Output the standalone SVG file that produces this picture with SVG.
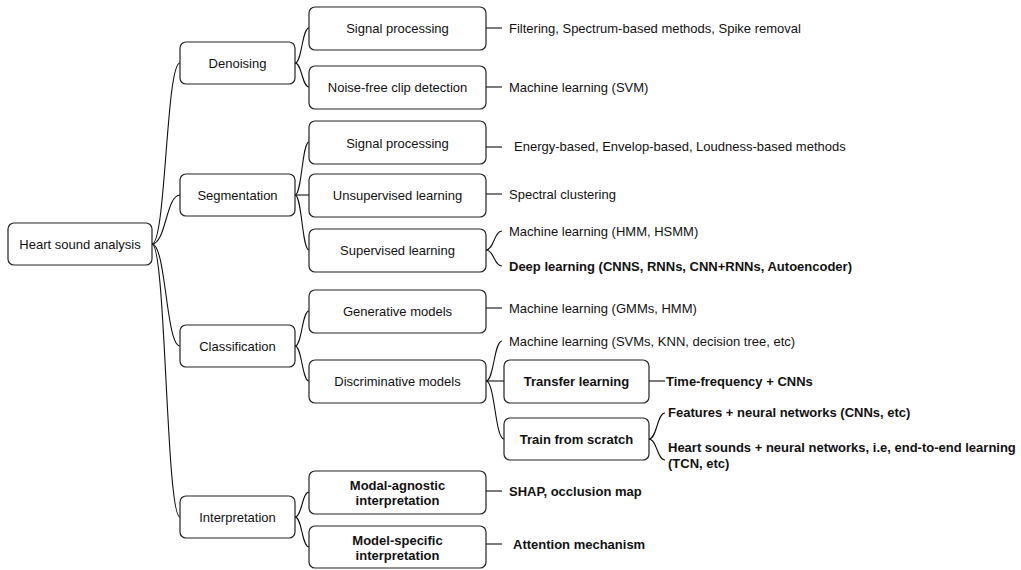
<svg xmlns="http://www.w3.org/2000/svg" width="1021" height="570" viewBox="0 0 1021 570">
<style>
.box{fill:#fff;stroke:#222;stroke-width:1.2}
.t{font-family:"Liberation Sans",Arial,sans-serif;font-size:13px;fill:#111}
.c{text-anchor:middle}
.b{font-weight:bold}
.e{fill:none;stroke:#111;stroke-width:1.1}
</style>
<rect width="1021" height="570" fill="#fff"/>
<g id="connectors">
<path class="e" d="M152,244 C166,244 166,63 180,63"/>
<path class="e" d="M152,244 C166,244 166,195 180,195"/>
<path class="e" d="M152,244 C166,244 166,346 180,346"/>
<path class="e" d="M152,244 C166,244 166,517 180,517"/>
<path class="e" d="M295,63 C302,63 302,28 309,28"/>
<path class="e" d="M295,63 C302,63 302,87 309,87"/>
<path class="e" d="M295,195 C302,195 302,142 309,142"/>
<path class="e" d="M295,195 L309,195"/>
<path class="e" d="M295,195 C302,195 302,250 309,250"/>
<path class="e" d="M295,346 C302,346 302,311 309,311"/>
<path class="e" d="M295,346 C302,346 302,381 309,381"/>
<path class="e" d="M295,517 C302,517 302,492 309,492"/>
<path class="e" d="M295,517 C302,517 302,547 309,547"/>
<path class="e" d="M486,28 L502,28"/>
<path class="e" d="M486,87 L502,87"/>
<path class="e" d="M486,147 L502,147"/>
<path class="e" d="M486,194 L502,194"/>
<path class="e" d="M486,250 C494,250 494,231 502,231"/>
<path class="e" d="M486,250 C494,250 494,266 502,266"/>
<path class="e" d="M486,308 L502,308"/>
<path class="e" d="M486,381 C494,381 494,341 502,341"/>
<path class="e" d="M486,381 L504,381"/>
<path class="e" d="M486,381 C495,381 495,439 504,439"/>
<path class="e" d="M649,381 L665,381"/>
<path class="e" d="M649,439 C657,439 657,413 665,413"/>
<path class="e" d="M649,439 C657,439 657,460 665,460"/>
<path class="e" d="M486,491 L502,491"/>
<path class="e" d="M486,544 L502,544"/>
</g>
<g id="root"><rect class="box" x="8" y="223" width="144" height="42" rx="6"/><text class="t c" x="80" y="248.5">Heart sound analysis</text></g>
<g id="denoising"><rect class="box" x="180" y="42" width="115" height="42" rx="6"/><text class="t c" x="237.5" y="67.5">Denoising</text></g>
<g id="segmentation"><rect class="box" x="180" y="174" width="115" height="42" rx="6"/><text class="t c" x="237.5" y="199.5">Segmentation</text></g>
<g id="classification"><rect class="box" x="180" y="325" width="115" height="42" rx="6"/><text class="t c" x="237.5" y="350.5">Classification</text></g>
<g id="interpretation"><rect class="box" x="180" y="496" width="115" height="42" rx="6"/><text class="t c" x="237.5" y="521.5">Interpretation</text></g>
<g id="signal-processing-1"><rect class="box" x="309" y="7" width="177" height="43" rx="6"/><text class="t c" x="397.5" y="32.5">Signal processing</text></g>
<g id="noise-free"><rect class="box" x="309" y="66" width="177" height="43" rx="6"/><text class="t c" x="397.5" y="91.5">Noise-free clip detection</text></g>
<g id="signal-processing-2"><rect class="box" x="309" y="121" width="177" height="43" rx="6"/><text class="t c" x="397.5" y="148">Signal processing</text></g>
<g id="unsupervised"><rect class="box" x="309" y="174" width="177" height="43" rx="6"/><text class="t c" x="397.5" y="199.5">Unsupervised learning</text></g>
<g id="supervised"><rect class="box" x="309" y="229" width="177" height="43" rx="6"/><text class="t c" x="397.5" y="255">Supervised learning</text></g>
<g id="generative"><rect class="box" x="309" y="290" width="177" height="43" rx="6"/><text class="t c" x="397.5" y="316">Generative models</text></g>
<g id="discriminative"><rect class="box" x="309" y="360" width="177" height="43" rx="6"/><text class="t c" x="397.5" y="386">Discriminative models</text></g>
<g id="modal-agnostic"><rect class="box" x="309" y="471" width="177" height="43" rx="6"/><text class="t c b" x="397.5" y="489.5">Modal-agnostic</text><text class="t c b" x="397.5" y="504.5">interpretation</text></g>
<g id="model-specific"><rect class="box" x="309" y="526" width="177" height="42" rx="6"/><text class="t c b" x="397.5" y="544.5">Model-specific</text><text class="t c b" x="397.5" y="559.5">interpretation</text></g>
<g id="transfer"><rect class="box" x="504" y="360" width="145" height="43" rx="6"/><text class="t c b" x="576.5" y="386">Transfer learning</text></g>
<g id="scratch"><rect class="box" x="504" y="418" width="145" height="42" rx="6"/><text class="t c b" x="576.5" y="443.5">Train from scratch</text></g>
<g id="leaves">
<text class="t" x="509" y="32.5">Filtering, Spectrum-based methods, Spike removal</text>
<text class="t" x="509" y="91.5">Machine learning (SVM)</text>
<text class="t" x="514" y="150.5">Energy-based, Envelop-based, Loudness-based methods</text>
<text class="t" x="509" y="198.5">Spectral clustering</text>
<text class="t" x="509" y="235.5">Machine learning (HMM, HSMM)</text>
<text class="t b" x="509" y="270.5">Deep learning (CNNS, RNNs, CNN+RNNs, Autoencoder)</text>
<text class="t" x="509" y="312.5">Machine learning (GMMs, HMM)</text>
<text class="t" x="509" y="345.5">Machine learning (SVMs, KNN, decision tree, etc)</text>
<text class="t b" x="666" y="385.5">Time-frequency + CNNs</text>
<text class="t b" x="668" y="416.5">Features + neural networks (CNNs, etc)</text>
<text class="t b" x="668" y="451.5">Heart sounds + neural networks, i.e, end-to-end learning</text>
<text class="t b" x="668" y="467.5">(TCN, etc)</text>
<text class="t b" x="509" y="495.5">SHAP, occlusion map</text>
<text class="t b" x="513" y="548.5">Attention mechanism</text>
</g>
</svg>
